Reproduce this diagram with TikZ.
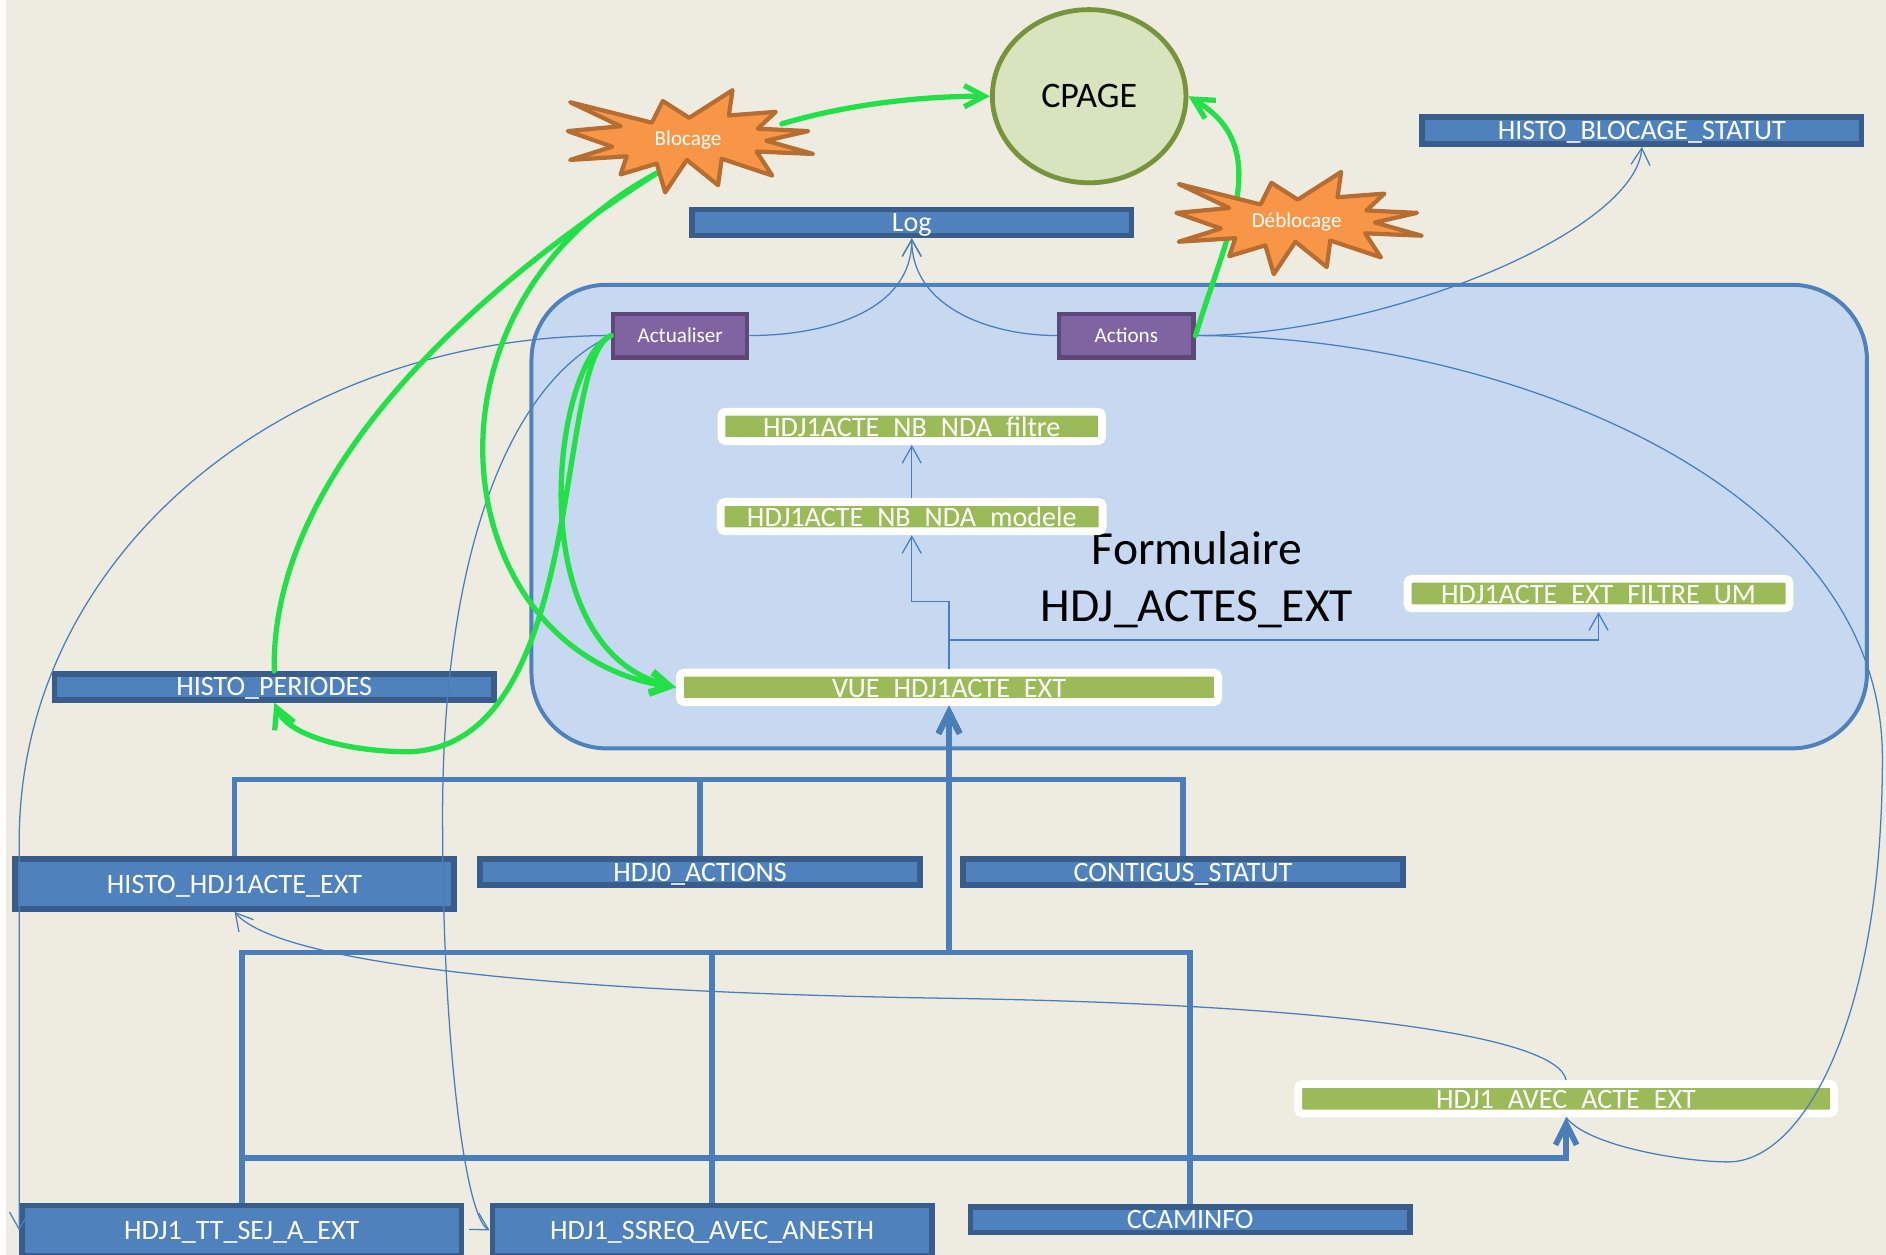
\documentclass[tikz,border=0pt]{standalone}
\usepackage{fontspec}
\setmainfont{Carlito}
\usepackage{xcolor}
\usetikzlibrary{arrows.meta,positioning,shapes.geometric}

\definecolor{bgtan}{HTML}{EEECE1}
\definecolor{tblfill}{HTML}{4F81BD}
\definecolor{tbledge}{HTML}{385D8A}
\definecolor{formfill}{HTML}{C6D9F1}
\definecolor{qryfill}{HTML}{9BBB59}
\definecolor{btnfill}{HTML}{8064A2}
\definecolor{btnedge}{HTML}{5C4776}
\definecolor{cpagefill}{HTML}{D7E4BD}
\definecolor{cpageedge}{HTML}{77933C}
\definecolor{burstfill}{HTML}{F79646}
\definecolor{burstedge}{HTML}{B66D31}
\definecolor{linkblue}{HTML}{4A7EBB}
\definecolor{flowgreen}{HTML}{24E048}

\tikzset{
  tbl/.style={rectangle, fill=tblfill, draw=tbledge, line width=0.094cm, text=white,
    minimum width=7.31cm, minimum height=0.43cm, inner sep=0pt,
    font=\fontsize{13.3}{16}\selectfont, text height=0.3cm, text depth=0pt},
  tall/.style={minimum height=0.83cm},
  qry/.style={rectangle, rounded corners=2pt, fill=qryfill, draw=white, line width=0.13cm,
    text=white, minimum height=0.49cm, inner sep=0pt,
    font=\fontsize{13.3}{16}\selectfont, text height=0.328cm, text depth=0pt},
  btn/.style={rectangle, fill=btnfill, draw=btnedge, line width=0.07cm, text=white,
    minimum width=2.23cm, minimum height=0.73cm, inner sep=0pt,
    font=\fontsize{10}{12}\selectfont, text height=0.23cm, text depth=0pt},
  form/.style={rectangle, rounded corners=1.25cm, fill=formfill, draw=tblfill,
    line width=0.066cm, minimum width=22.21cm, minimum height=7.71cm, inner sep=0pt},
  formlbl/.style={align=center, inner sep=0pt, font=\fontsize{22.5}{26.7}\selectfont},
  cpagestyle/.style={ellipse, fill=cpagefill, draw=cpageedge, line width=0.08cm,
    minimum width=3.22cm, minimum height=2.88cm, inner sep=0pt,
    font=\fontsize{17}{20}\selectfont, text height=0.385cm, text depth=0pt},
  burstline/.style={fill=burstfill, draw=burstedge, line width=0.07cm, line join=round},
  burstlbl/.style={text=white, inner sep=0pt, font=\fontsize{10}{12}\selectfont,
    text height=0.23cm, text depth=0pt},
  link/.style={draw=linkblue, line width=0.6pt, -{Straight Barb[length=8pt,width=9pt]}},
  bus/.style={draw=linkblue, line width=0.095cm, -{Straight Barb[length=10pt,width=10pt]}},
  flowline/.style={draw=flowgreen, line width=0.088cm, line cap=round},
  flow/.style={flowline, -{Straight Barb[length=9.5pt,width=10pt]}},
  burst/.pic={
    \path[burstline] (-98,30) -- (-30,13) -- (-21,31) -- (1,17) -- (37,40) -- (34,19)
      -- (73,22) -- (58,8) -- (100,6) -- (65,-2) -- (104,-13) -- (57,-11) -- (70,-31)
      -- (28,-17) -- (25,-39) -- (-1,-18) -- (-19,-45) -- (-26,-21) -- (-56,-30)
      -- (-51,-15) -- (-98,-18) -- (-63,-7) -- (-100,6) -- (-56,10) -- cycle;
  }
}

\begin{document}
\begin{tikzpicture}[x=0.02cm, y=0.02cm]
	\useasboundingbox (0,0) rectangle (1568,1043);
	\fill[bgtan] (0,0) rectangle (1568,1043);
	\fill[white] (0,0) rectangle (5,1043);

	% Form
	\node[form] (form) at (997,613.5) {};
	\node[formlbl] (formname) at (995,561) {Formulaire\\HDJ\_ACTES\_EXT};

	% Queries
	\node[qry, minimum width=6.35cm] (modele) at (758,613.5) {HDJ1ACTE\_NB\_NDA\_modele};
	\node[qry, minimum width=6.33cm, above=0.88cm of modele] (filtre) {HDJ1ACTE\_NB\_NDA\_filtre};
	\node[qry, minimum width=6.35cm] (filtreum) at (1329,549.5) {HDJ1ACTE\_EXT\_FILTRE\_UM};
	\node[qry, minimum width=8.95cm] (vue) at (789,471.5) {VUE\_HDJ1ACTE\_EXT};
	\node[qry, minimum width=8.91cm] (avec) at (1302,129.5) {HDJ1\_AVEC\_ACTE\_EXT};

	% Tables
	\node[tbl] (log) at (758,858) {Log};
	\node[tbl, minimum height=0.45cm] (histobs) at (1365,934.5) {HISTO\_BLOCAGE\_STATUT};
	\node[tbl] (histoper) at (228,472) {HISTO\_PERIODES};
	\node[tbl, tall] (histohdj) at (195,308) {HISTO\_HDJ1ACTE\_EXT};
	\node[tbl] (hdj0) at (582,318) {HDJ0\_ACTIONS};
	\node[tbl] (contigus) at (983.5,318) {CONTIGUS\_STATUT};
	\node[tbl, tall] (ttsej) at (201,20) {HDJ1\_TT\_SEJ\_A\_EXT};
	\node[tbl, tall, right=0.42cm of ttsej] (ssreq) {HDJ1\_SSREQ\_AVEC\_ANESTH};
	\node[tbl] (ccam) at (989.5,29) {CCAMINFO};

	% Buttons and CPAGE
	\node[btn] (actualiser) at (565.5,764) {Actualiser};
	\node[btn, right=5.12cm of actualiser] (actions) {Actions};
	\node[cpagestyle] (cpage) at (905.5,963) {CPAGE};

	% Joins
	\coordinate (bus1) at (789,395);
	\coordinate (bus2) at (789,251);
	\coordinate (bus3) at (1302,80);
	\draw[bus] (histohdj.north) |- (bus1) -- (vue.south);
	\draw[bus] (hdj0.north) |- (bus1) -- (vue.south);
	\draw[bus] (contigus.north) |- (bus1) -- (vue.south);
	\draw[bus] (ttsej.north) |- (bus2) -- (vue.south);
	\draw[bus] (ssreq.north) |- (bus2) -- (vue.south);
	\draw[bus] (ccam.north) |- (bus2) -- (vue.south);
	\draw[bus] (ttsej.north) |- (bus3) -- (avec.south);

	% Links
	\draw[link] (modele.north) -- (filtre.south);
	\draw[link] (vue.north) -- ++(0,56) -| (modele.south);
	\draw[link] (vue.north) -- ++(0,24) -| (filtreum.south);
	\draw[link] (actualiser.east) to[out=0,in=-90] (log.south);
	\draw[link] (actions.west) to[out=180,in=-90] (log.south);
	\draw[link] (actions.east) .. controls (1150,764) and (1360,850) .. (histobs.south);
	\draw[link, -] (actions.east) .. controls (1244.5,764) and (1565,643) .. (1565,413)
		.. controls (1565,190) and (1497,77) .. (1437,77)
		.. controls (1400,77) and (1320,90) .. (avec.south);
	\draw[link] (actualiser.west) .. controls (238,764) and (ttsej.west |- 0,583)
		.. (ttsej.west |- 0,343) -- (ttsej.west);
	\draw[link] (actualiser.west) .. controls (420,723) and (366,573) .. (368,353)
		.. controls (368,193) and (385,33) .. (ssreq.west);
	\draw[link] (avec.north) .. controls (1295,183) and (1100,208) .. (790,213)
		.. controls (450,218) and (230,243) .. (histohdj.south);

	% Triggers
	\node[burstlbl] (blocage) at (572,928) {Blocage};
	\node[burstlbl] (deblocage) at (1078,860) {D\'eblocage};
	\draw[flow] ([shift={(78,12)}]blocage.center) .. controls (700,955) and (760,963) .. (cpage.west);
	\draw[flow] (actions.east) .. controls (1020,850) and (1060,920) .. (cpage.east);
	\draw[flowline] (histoper.north) .. controls (225,643) and (380,793) .. ([shift={(-26,-29)}]blocage.center);
	\draw[flow] ([shift={(-26,-29)}]blocage.center) .. controls (330,783) and (375,498) .. (vue.west);
	\draw[flow] (actualiser.west) .. controls (460,743) and (430,503) .. (vue.west);
	\draw[flow] (actualiser.west) .. controls (460,743) and (490,423) .. (340,418)
		.. controls (290,418) and (240,431) .. (histoper.south);
	\pic at (572,928) {burst};
	\pic at (1078,860) {burst};
	\node[burstlbl] at (blocage) {Blocage};
	\node[burstlbl] at (deblocage) {D\'eblocage};
\end{tikzpicture}
\end{document}
